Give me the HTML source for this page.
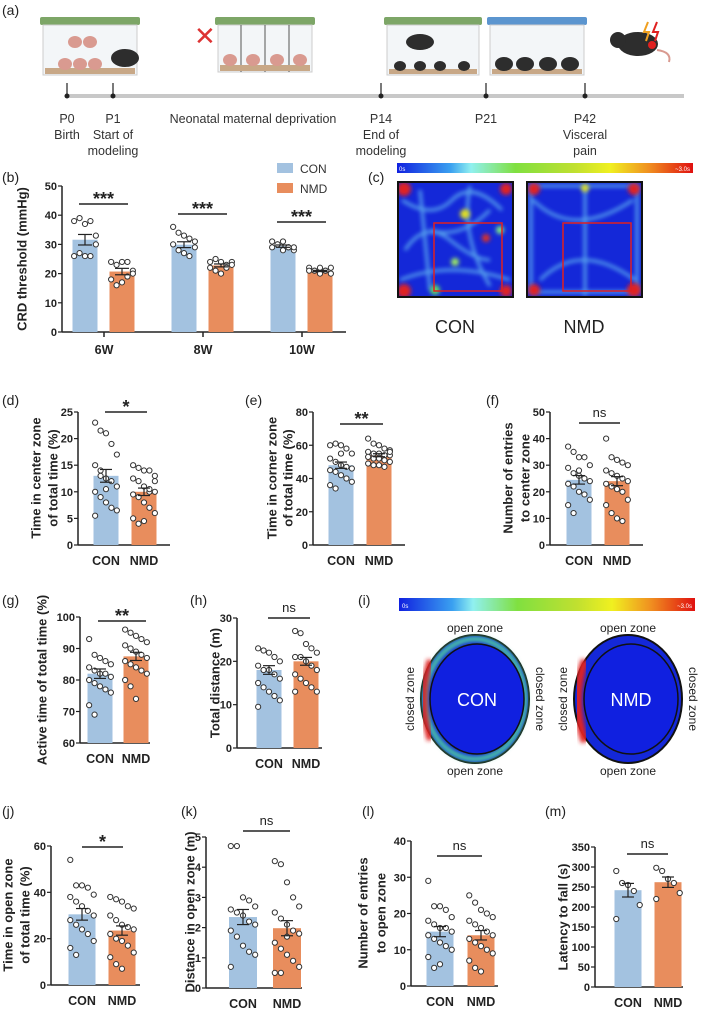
<!DOCTYPE html>
<html><head><meta charset="utf-8"><style>
html,body{margin:0;padding:0;background:#fff}
svg{display:block;font-family:"Liberation Sans",sans-serif}
.pl{font-size:14px;fill:#222}
.tk{font-size:11px;font-weight:bold;fill:#222}
.yt{font-size:13px;font-weight:bold;fill:#222}
.cat{font-size:12.5px;font-weight:bold;fill:#222}
.tl{font-size:12.5px;fill:#333}
</style></head><body>
<svg id="fig" width="701" height="1010" viewBox="0 0 701 1010" xmlns="http://www.w3.org/2000/svg">
<defs>
<linearGradient id="cbar" x1="0" x2="1" y1="0" y2="0">
<stop offset="0" stop-color="#1020e0"/><stop offset="0.18" stop-color="#3aa0f0"/><stop offset="0.25" stop-color="#90f0f0"/><stop offset="0.4" stop-color="#80e040"/><stop offset="0.6" stop-color="#c0e030"/><stop offset="0.72" stop-color="#f0f020"/><stop offset="0.85" stop-color="#f09020"/><stop offset="1" stop-color="#e01010"/>
</linearGradient>
<filter id="blur"><feGaussianBlur stdDeviation="2.2"/></filter>
<clipPath id="clipC"><rect x="399" y="183" width="113" height="113"/></clipPath>
<clipPath id="clipN"><rect x="528" y="183" width="113" height="113"/></clipPath>
</defs>

<!-- (a) timeline -->
<g>
<text class="pl" x="2" y="15">(a)</text>
<line x1="66" y1="96" x2="684" y2="96" stroke="#c8c8c8" stroke-width="4"/>
<g><rect x="40" y="17" width="100" height="8" fill="#7da667" rx="2"/><rect x="43" y="25" width="94" height="50" fill="#f3f6f8" stroke="#ccc"/><rect x="45" y="68" width="90" height="6" fill="#c8a887"/><ellipse cx="65" cy="64" rx="7" ry="6" fill="#d99a90"/><ellipse cx="80" cy="64" rx="7" ry="6" fill="#d99a90"/><ellipse cx="95" cy="64" rx="7" ry="6" fill="#d99a90"/><ellipse cx="75" cy="42" rx="7" ry="6" fill="#d99a90"/><ellipse cx="90" cy="42" rx="7" ry="6" fill="#d99a90"/><ellipse cx="125" cy="58" rx="14" ry="9" fill="#2d2d2d"/></g>
<text x="194" y="45" font-size="26" fill="#d33">✕</text>
<g><rect x="215" y="17" width="100" height="8" fill="#7da667" rx="2"/><rect x="218" y="25" width="94" height="47" fill="#f3f6f8" stroke="#ccc"/><line x1="241" y1="25" x2="241" y2="72" stroke="#555"/><line x1="265" y1="25" x2="265" y2="72" stroke="#555"/><line x1="289" y1="25" x2="289" y2="72" stroke="#555"/><rect x="220" y="65" width="90" height="6" fill="#c8a887"/><ellipse cx="230" cy="60" rx="7" ry="6" fill="#d99a90"/><ellipse cx="253" cy="60" rx="7" ry="6" fill="#d99a90"/><ellipse cx="277" cy="60" rx="7" ry="6" fill="#d99a90"/><ellipse cx="300" cy="60" rx="7" ry="6" fill="#d99a90"/></g>
<g><rect x="384" y="17" width="98" height="8" fill="#7da667" rx="2"/><rect x="387" y="25" width="92" height="50" fill="#f3f6f8" stroke="#ccc"/><rect x="389" y="69" width="88" height="5" fill="#c8a887"/><ellipse cx="420" cy="42" rx="14" ry="8" fill="#2d2d2d"/><ellipse cx="400" cy="66" rx="6" ry="5" fill="#2d2d2d"/><ellipse cx="420" cy="66" rx="6" ry="5" fill="#2d2d2d"/><ellipse cx="440" cy="66" rx="6" ry="5" fill="#2d2d2d"/><ellipse cx="464" cy="66" rx="6" ry="5" fill="#2d2d2d"/></g>
<g><rect x="487" y="17" width="100" height="8" fill="#5b95cf" rx="2"/><rect x="490" y="25" width="94" height="50" fill="#f3f6f8" stroke="#ccc"/><rect x="492" y="69" width="90" height="5" fill="#c8a887"/><ellipse cx="504" cy="64" rx="9" ry="7" fill="#2d2d2d"/><ellipse cx="525" cy="64" rx="9" ry="7" fill="#2d2d2d"/><ellipse cx="548" cy="64" rx="9" ry="7" fill="#2d2d2d"/><ellipse cx="570" cy="64" rx="9" ry="7" fill="#2d2d2d"/></g>
<g><ellipse cx="638" cy="44" rx="20" ry="12" fill="#2d2d2d"/><circle cx="618" cy="40" r="8" fill="#2d2d2d"/><circle cx="652" cy="45" r="4" fill="#e02020"/><path d="M648 22 l-4 10 h5 l-3 9" stroke="#f0a020" stroke-width="2" fill="none"/><path d="M657 22 l-4 10 h5 l-3 9" stroke="#e02020" stroke-width="2" fill="none"/><path d="M657 50 q15 2 12 12" stroke="#d99a90" stroke-width="2" fill="none"/></g>
<g id="tticks"></g>
<text class="tl" x="67" y="123" text-anchor="middle">P0</text><text class="tl" x="67" y="139" text-anchor="middle">Birth</text>
<text class="tl" x="113" y="123" text-anchor="middle">P1</text><text class="tl" x="113" y="139" text-anchor="middle">Start of</text><text class="tl" x="113" y="155" text-anchor="middle">modeling</text>
<text class="tl" x="253" y="123" text-anchor="middle">Neonatal maternal deprivation</text>
<text class="tl" x="381" y="123" text-anchor="middle">P14</text><text class="tl" x="381" y="139" text-anchor="middle">End of</text><text class="tl" x="381" y="155" text-anchor="middle">modeling</text>
<text class="tl" x="486" y="123" text-anchor="middle">P21</text>
<text class="tl" x="585" y="123" text-anchor="middle">P42</text><text class="tl" x="585" y="139" text-anchor="middle">Visceral</text><text class="tl" x="585" y="155" text-anchor="middle">pain</text>
</g>

<text class="pl" x="2" y="182">(b)</text>
<text class="pl" x="368" y="182">(c)</text>
<g>
<rect x="277" y="163" width="16" height="10" fill="#a3c2e0"/><text x="300" y="173" font-size="12" fill="#333">CON</text>
<rect x="277" y="183" width="16" height="10" fill="#e88d5d"/><text x="300" y="193" font-size="12" fill="#333">NMD</text>
</g>

<!-- (c) heatmaps -->
<g>
<rect x="397" y="163" width="296" height="10" fill="url(#cbar)"/>
<text x="399" y="171" font-size="6" fill="#fff">0s</text><text x="690" y="171" font-size="6" fill="#fff" text-anchor="end">~3.0s</text>
<rect x="398" y="182" width="115" height="115" fill="#1428d8" stroke="#111" stroke-width="2"/>
<g clip-path="url(#clipC)" filter="url(#blur)" fill="none" stroke="#5fb0f0" stroke-width="3" opacity="0.9">
<path d="M402 200 q30 20 50 0 t50 10 M405 250 q20 -30 45 -10 t40 20 M420 190 l10 100 M470 186 q-10 50 20 100 M400 280 q50 -20 110 0 M430 230 q30 10 60 -20"/>
</g>
<g clip-path="url(#clipC)" filter="url(#blur)">
<circle cx="404" cy="189" r="7" fill="#e02020"/><circle cx="506" cy="189" r="6" fill="#e02020"/><circle cx="404" cy="291" r="7" fill="#e02020"/><circle cx="506" cy="291" r="6" fill="#e02020"/><circle cx="465" cy="214" r="5" fill="#e0e020"/><circle cx="486" cy="238" r="4" fill="#e03020"/><circle cx="435" cy="290" r="5" fill="#60e060"/><circle cx="500" cy="230" r="4" fill="#80f080"/><circle cx="455" cy="262" r="4" fill="#a0f060"/>
</g>
<rect x="434" y="223" width="68" height="68" fill="none" stroke="#e02020" stroke-width="1.5"/>
<rect x="527" y="182" width="115" height="115" fill="#1428d8" stroke="#111" stroke-width="2"/>
<g clip-path="url(#clipN)" filter="url(#blur)" fill="none" stroke="#5fb0f0" stroke-width="3" opacity="0.9">
<path d="M531 186 h106 v106 h-106 z M533 200 q40 40 100 0 M540 280 q40 -40 95 0 M585 186 v110"/>
</g>
<g clip-path="url(#clipN)" filter="url(#blur)">
<circle cx="534" cy="189" r="6" fill="#e02020"/><circle cx="634" cy="189" r="6" fill="#e02020"/><circle cx="534" cy="290" r="6" fill="#e02020"/><circle cx="634" cy="290" r="7" fill="#e02020"/><circle cx="585" cy="188" r="4" fill="#e0e020"/>
</g>
<rect x="563" y="223" width="68" height="68" fill="none" stroke="#e02020" stroke-width="1.5"/>
<text x="455" y="333" font-size="18" text-anchor="middle" fill="#222">CON</text>
<text x="584" y="333" font-size="18" text-anchor="middle" fill="#222">NMD</text>
</g>

<text class="pl" x="2" y="405">(d)</text>
<text class="pl" x="245" y="405">(e)</text>
<text class="pl" x="486" y="405">(f)</text>
<text class="pl" x="2" y="605">(g)</text>
<text class="pl" x="190" y="605">(h)</text>
<text class="pl" x="358" y="605">(i)</text>
<text class="pl" x="2" y="816">(j)</text>
<text class="pl" x="181" y="816">(k)</text>
<text class="pl" x="362" y="816">(l)</text>
<text class="pl" x="545" y="816">(m)</text>

<!-- (i) rings -->
<g>
<rect x="399" y="598" width="296" height="13" fill="url(#cbar)"/>
<text x="402" y="608" font-size="6" fill="#fff">0s</text><text x="692" y="608" font-size="6" fill="#fff" text-anchor="end">~3.0s</text>
<g>
<ellipse cx="475" cy="699" rx="54" ry="64" fill="#1428d8" stroke="#111" stroke-width="2"/>
<ellipse cx="475" cy="699" rx="50" ry="60" fill="none" stroke="#50d0a0" stroke-width="5" filter="url(#blur)"/>
<path d="M430 660 q-12 40 0 80" stroke="#e02020" stroke-width="6" fill="none" filter="url(#blur)"/>
<ellipse cx="477" cy="699" rx="47" ry="55" fill="#1020e0" stroke="#111" stroke-width="1.5"/>
<text x="477" y="706" font-size="18" fill="#fff" text-anchor="middle">CON</text>
</g>
<g>
<ellipse cx="628" cy="699" rx="54" ry="64" fill="#1428d8" stroke="#111" stroke-width="2"/>
<path d="M585 660 q-14 40 0 82" stroke="#e02020" stroke-width="8" fill="none" filter="url(#blur)"/>
<ellipse cx="631" cy="699" rx="47" ry="55" fill="#1020e0" stroke="#111" stroke-width="1.5"/>
<text x="631" y="706" font-size="18" fill="#fff" text-anchor="middle">NMD</text>
</g>
<text x="475" y="632" font-size="12" fill="#222" text-anchor="middle">open zone</text>
<text x="475" y="775" font-size="12" fill="#222" text-anchor="middle">open zone</text>
<text x="628" y="632" font-size="12" fill="#222" text-anchor="middle">open zone</text>
<text x="628" y="775" font-size="12" fill="#222" text-anchor="middle">open zone</text>
<text transform="translate(414,699) rotate(-90)" font-size="12" fill="#222" text-anchor="middle">closed zone</text>
<text transform="translate(536,699) rotate(90)" font-size="12" fill="#222" text-anchor="middle">closed zone</text>
<text transform="translate(567,699) rotate(-90)" font-size="12" fill="#222" text-anchor="middle">closed zone</text>
<text transform="translate(689,699) rotate(90)" font-size="12" fill="#222" text-anchor="middle">closed zone</text>
</g>

<g id="charts"></g>
</svg>
<script>
const NS='http://www.w3.org/2000/svg';
const CON='#a3c2e0', NMD='#e88d5d';
const timelineDays=['P0','P1','P14','P21','P42'];
const timelineX=[67,113,381,486,585];

// (b) CRD threshold
const bCats=['6W','8W','10W'];
const bTicks=[0,10,20,30,40,50];
const bConMeans=[31.6,29.9,29.4];
const bNmdMeans=[20.7,22.8,20.9];
const bConSem=[1.8,1.0,0.4];
const bNmdSem=[1.1,0.5,0.2];
const bConPts=[[38,39,37,38,33,26,27,26,26,30],[36,34,33,32,31,30,28,27,26,29],[31,30,31,29,28,29,30,28,29,29]];
const bNmdPts=[[24,23,24,24,21,18,16,17,19,20],[24,25,24,23,24,22,21,20,22,23],[22,21,22,21,20,21,21,20,21,22]];
const bSig=['***','***','***'];

const dTicks=[0,5,10,15,20,25], dMeans=[13,10], dSem=[1.2,0.7];
const dCon=[23,21.5,21,19,17,15,14,12.5,12,11,10,9,8,7,6.5,5.5,13,10.5];
const dNmd=[15,14.5,14,14,13,12.5,12,11,10,10,9.5,9,8,7,6,5,4,4.5,10.5,12];
const eTicks=[0,20,40,60,80], eMeans=[48,54], eSem=[1.9,0.9];
const eCon=[60,61,60,58,55,52,50,48,47,46,45,44,42,40,38,36,34,55];
const eNmd=[64,61,60,58,57,56,55,55,54,54,53,52,52,51,50,49,48,48,47,56];
const fTicks=[0,10,20,30,40,50], fMeans=[24.5,24], fSem=[1.6,1.7];
const fCon=[37,35,33,33,30,29,27,26,25,24,23,22,20,19,17,15,12,28];
const fNmd=[40,33,32,31,30,28,27,26,25,24,23,22,21,20,17,15,12,10,9];
const gTicks=[60,70,80,90,100], gMeans=[82,87.5], gSem=[1.5,1.3];
const gCon=[93,88,87,86,85,84,83,82,82,81,80,79,78,77,76,72,69];
const gNmd=[96,95,94,93,92,91,90,89,88,87,86,85,84,83,82,80,78,74];
const hTicks=[0,10,20,30], hMeans=[18,20], hSem=[1.0,0.9];
const hCon=[23,22.5,22,21,20,19,18,18,17,16,15,14,13,12,11,9.5];
const hNmd=[27,26.5,24,23,22,21,21,20,19,18,17,16,15,14,13,13];
const jTicks=[0,20,40,60], jMeans=[30.5,23.5], jSem=[2.5,2.0];
const jCon=[54,43,43,42,39,38,36,34,32,30,28,26,24,22,19,16,13];
const jNmd=[38,37,36,34,33,30,28,26,25,24,22,20,19,17,14,12,9,7];
const kTicks=[0,1,2,3,4,5], kMeans=[2.35,1.98], kSem=[0.25,0.25];
const kCon=[4.7,4.7,3.0,2.9,2.7,2.6,2.5,2.4,2.2,2.1,1.9,1.7,1.4,1.2,1.1,0.7];
const kNmd=[4.2,4.1,3.5,3.0,2.7,2.5,2.3,2.1,1.9,1.8,1.5,1.3,1.1,0.9,0.7,0.5,0.5,1.7];
const lTicks=[0,10,20,30,40], lMeans=[15,14], lSem=[1.4,1.3];
const lCon=[29,22,22,21,19,18,17,16,16,15,14,13,12,11,10,8,5,6];
const lNmd=[25,23,21,20,19,18,17,16,15,14,13,12,11,10,9,7,5,4];
const mTicks=[0,50,100,150,200,250,300,350], mMeans=[242,262], mSem=[17,13];
const mCon=[290,260,255,240,205,170];
const mNmd=[298,290,270,260,235,220];

const root=document.getElementById('charts');
function el(tag,attrs,parent){const e=document.createElementNS(NS,tag);for(const k in attrs)e.setAttribute(k,attrs[k]);(parent||root).appendChild(e);return e;}

const tt=document.getElementById('tticks');
timelineX.forEach((x,i)=>{
  const t=el('line',{x1:x,y1:83,x2:x,y2:96,stroke:'#222','stroke-width':1.2},tt);
  
  
  el('circle',{cx:x,cy:96,r:2.5,fill:'#222'},tt);
});

function drawPts(g,cx,vals,y,bw){
  vals.forEach((v,i)=>{
    const off=((i%5)-2)*(bw/4.6);
    const c=el('circle',{cx:cx+off,cy:y(v),r:2.6,fill:'#fff',stroke:'#333','stroke-width':1},g);
    
    
  });
}
function errBar(g,cx,mean,sem,y,w){
  el('line',{x1:cx,y1:y(mean-sem),x2:cx,y2:y(mean+sem),stroke:'#222','stroke-width':1.2},g);
  el('line',{x1:cx-w,y1:y(mean-sem),x2:cx+w,y2:y(mean-sem),stroke:'#222','stroke-width':1.2},g);
  el('line',{x1:cx-w,y1:y(mean+sem),x2:cx+w,y2:y(mean+sem),stroke:'#222','stroke-width':1.2},g);
}
function axes(g,ax,y0,y1,ticks,xEnd){
  const lo=ticks[0],hi=ticks[ticks.length-1];
  const y=v=>y0-(v-lo)/(hi-lo)*(y0-y1);
  const ya=el('line',{x1:ax,y1:y0,x2:ax,y2:y1,stroke:'#222','stroke-width':1.5},g);
  
  
  const xa=el('line',{x1:ax,y1:y0,x2:xEnd,y2:y0,stroke:'#222','stroke-width':1.5},g);
  
  
  ticks.forEach(t=>{
    el('line',{x1:ax-4,y1:y(t),x2:ax,y2:y(t),stroke:'#222','stroke-width':1.2},g);
    const tx=el('text',{x:ax-5,y:y(t)+4,'text-anchor':'end',class:'tk'},g);
    tx.textContent=t;
    
    
  });
  return y;
}
function yTitle(g,xs,yc,lines){
  lines.forEach((s,i)=>{
    const t=el('text',{transform:`translate(${xs[i]+4.5},${yc}) rotate(-90)`,'text-anchor':'middle',class:'yt'},g);
    t.textContent=s;
    
    
  });
}
function sig(g,x1,x2,yl,txt){
  el('line',{x1:x1,y1:yl,x2:x2,y2:yl,stroke:'#222','stroke-width':1.5},g);
  const t=el('text',{x:(x1+x2)/2,y:txt==='ns'?yl-6:yl+1,'text-anchor':'middle','font-size':txt==='ns'?13:18,'font-weight':txt==='ns'?'normal':'bold',fill:'#222'},g);
  t.textContent=txt;
  
  
}
function two(name,o){
  const g=el('g',{});
  
  
  const y=axes(g,o.ax,o.y0,o.y1,o.ticks,o.xEnd);
  const bw=o.bw;
  [[o.cx1,o.means[0],o.sem[0],o.con,CON,'CON'],[o.cx2,o.means[1],o.sem[1],o.nmd,NMD,'NMD']].forEach(([cx,m,s,pts,col,lab])=>{
    const b=el('rect',{x:cx-bw/2,y:y(m),width:bw,height:o.y0-y(m),fill:col},g);
    
    
    drawPts(g,cx,pts,y,bw);
    errBar(g,cx,m,s,y,6);
    const t=el('text',{x:cx,y:o.y0+20,'text-anchor':'middle',class:'cat'},g);
    t.textContent=lab;
    
    
  });
  sig(g,o.s1,o.s2,o.sigY,o.sig);
  yTitle(g,o.tx,o.tyc,o.title);
}

// (b)
(function(){
  const g=el('g',{});
  
  
  const y=axes(g,62,332,186,bTicks,346);
  const gx=[104,203,302], bw=25;
  bCats.forEach((c,i)=>{
    const c1=gx[i]-19,c2=gx[i]+18;
    const b1=el('rect',{x:c1-bw/2,y:y(bConMeans[i]),width:bw,height:332-y(bConMeans[i]),fill:CON},g);
    
    
    const b2=el('rect',{x:c2-bw/2,y:y(bNmdMeans[i]),width:bw,height:332-y(bNmdMeans[i]),fill:NMD},g);
    
    
    drawPts(g,c1,bConPts[i],y,bw);drawPts(g,c2,bNmdPts[i],y,bw);
    errBar(g,c1,bConMeans[i],bConSem[i],y,7);errBar(g,c2,bNmdMeans[i],bNmdSem[i],y,7);
    el('line',{x1:gx[i],y1:332,x2:gx[i],y2:337,stroke:'#222','stroke-width':1.5},g);
    const t=el('text',{x:gx[i],y:354,'text-anchor':'middle',class:'cat','font-size':13},g);
    t.textContent=c;
    
    
    const sy=[204,214,222][i];
    sig(g,c1-6,c2+6,sy,bSig[i]);
  });
  yTitle(g,[22],259,['CRD threshold (mmHg)']);
})();

two('panel-d-chart',{ax:78,y0:545,y1:412,ticks:dTicks,xEnd:170,cx1:106,cx2:144,bw:25,means:dMeans,sem:dSem,con:dCon,nmd:dNmd,s1:105,s2:147,sigY:412,sig:'*',tx:[36,53],tyc:478,title:['Time in center zone','of total time (%)']});
two('panel-e-chart',{ax:313,y0:545,y1:412,ticks:eTicks,xEnd:405,cx1:341,cx2:379,bw:25,means:eMeans,sem:eSem,con:eCon,nmd:eNmd,s1:340,s2:383,sigY:424,sig:'**',tx:[272,288],tyc:478,title:['Time in corner zone','of total time (%)']});
two('panel-f-chart',{ax:550,y0:545,y1:412,ticks:fTicks,xEnd:643,cx1:579,cx2:617,bw:25,means:fMeans,sem:fSem,con:fCon,nmd:fNmd,s1:579,s2:620,sigY:423,sig:'ns',tx:[508,525],tyc:478,title:['Number of entries','to center zone']});
two('panel-g-chart',{ax:80,y0:743,y1:617,ticks:gTicks,xEnd:150,cx1:100,cx2:136,bw:25,means:gMeans,sem:gSem,con:gCon,nmd:gNmd,s1:98,s2:146,sigY:621,sig:'**',tx:[42],tyc:680,title:['Active time of total time (%)']});
two('panel-h-chart',{ax:237,y0:748,y1:618,ticks:hTicks,xEnd:322,cx1:269,cx2:306,bw:25,means:hMeans,sem:hSem,con:hCon,nmd:hNmd,s1:268,s2:310,sigY:618,sig:'ns',tx:[215],tyc:683,title:['Total distance (m)']});
two('panel-j-chart',{ax:51,y0:985,y1:846,ticks:jTicks,xEnd:140,cx1:82,cx2:122,bw:27,means:jMeans,sem:jSem,con:jCon,nmd:jNmd,s1:82,s2:123,sigY:847,sig:'*',tx:[8,25],tyc:915,title:['Time in open zone','of total time (%)']});
two('panel-k-chart',{ax:206,y0:988,y1:837,ticks:kTicks,xEnd:302,cx1:243,cx2:287,bw:28,means:kMeans,sem:kSem,con:kCon,nmd:kNmd,s1:243,s2:290,sigY:831,sig:'ns',tx:[190],tyc:912,title:['Distance in open zone (m)']});
two('panel-l-chart',{ax:411,y0:986,y1:841,ticks:lTicks,xEnd:498,cx1:440,cx2:481,bw:27,means:lMeans,sem:lSem,con:lCon,nmd:lNmd,s1:437,s2:482,sigY:856,sig:'ns',tx:[363,381],tyc:913,title:['Number of entries','to open zone']});
two('panel-m-chart',{ax:595,y0:987,y1:847,ticks:mTicks,xEnd:683,cx1:628,cx2:668,bw:27,means:mMeans,sem:mSem,con:mCon,nmd:mNmd,s1:627,s2:668,sigY:854,sig:'ns',tx:[563],tyc:917,title:['Latency to fall (s)']});
</script>
</body></html>
